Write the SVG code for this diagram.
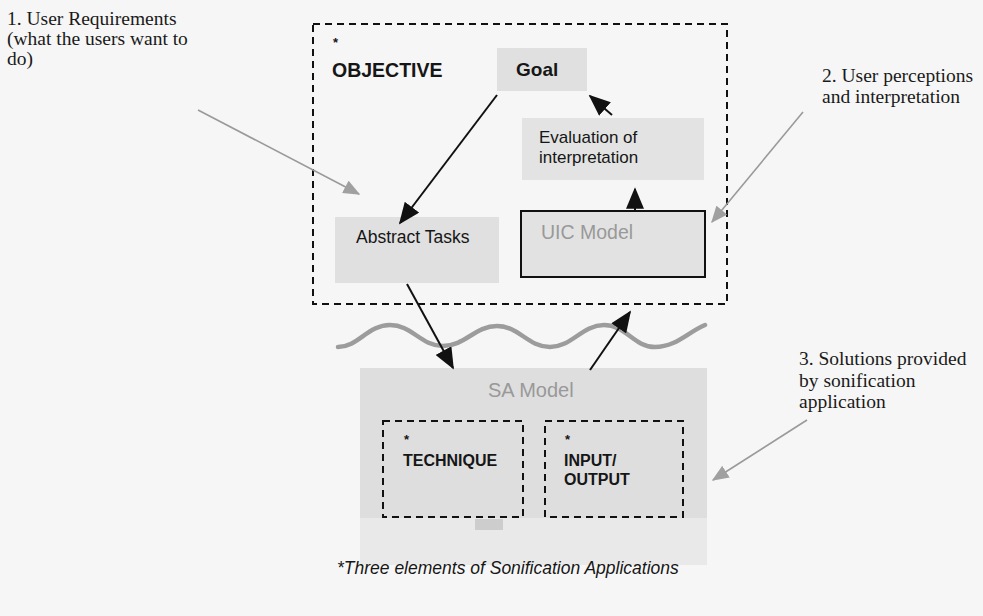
<svg xmlns="http://www.w3.org/2000/svg" width="983" height="616" viewBox="0 0 983 616">
  <style>
    .serif { font-family: "Liberation Serif", "Times New Roman", serif; font-size: 19.5px; fill: #1a1a1a; }
    .sans { font-family: "Liberation Sans", Arial, sans-serif; fill: #161616; }
    .bold { font-weight: bold; }
    .faint { fill: #999999; }
    .box { fill: #e0e0e0; }
    .dash { fill: none; stroke: #111; stroke-width: 2; stroke-dasharray: 7 5; }
    .link { stroke: #111; stroke-width: 2; fill: none; }
    .pointer { stroke: #9a9a9a; stroke-width: 1.6; fill: none; }
  </style>
  <defs>
    <marker id="arrow-big" viewBox="0 0 12 10" refX="11" refY="5" markerWidth="22" markerHeight="18" markerUnits="userSpaceOnUse" orient="auto">
      <path d="M0,0 L12,5 L0,10 z" fill="#111"/>
    </marker>
    <marker id="arrow-gray" viewBox="0 0 12 10" refX="11" refY="5" markerWidth="17" markerHeight="14" markerUnits="userSpaceOnUse" orient="auto">
      <path d="M0,0 L12,5 L0,10 z" fill="#a0a0a0"/>
    </marker>
  </defs>

  <rect x="0" y="0" width="983" height="616" fill="#f6f6f6"/>

  <!-- side annotations -->
  <g id="label-requirements">
    <text class="serif" x="7" y="25">1. User Requirements</text>
    <text class="serif" x="7" y="45">(what the users want to</text>
    <text class="serif" x="7" y="65">do)</text>
  </g>
  <g id="label-perceptions">
    <text class="serif" x="822" y="82">2. User perceptions</text>
    <text class="serif" x="822" y="103">and interpretation</text>
  </g>
  <g id="label-solutions">
    <text class="serif" x="799" y="365">3. Solutions provided</text>
    <text class="serif" x="799" y="387">by sonification</text>
    <text class="serif" x="799" y="408">application</text>
  </g>

  <!-- objective frame -->
  <g id="objective">
    <rect class="dash" x="313" y="24" width="414" height="280"/>
    <text class="sans bold" x="333" y="47" font-size="13">*</text>
    <text class="sans bold" x="332" y="77" font-size="19.5">OBJECTIVE</text>
  </g>

  <g id="goal">
    <rect class="box" x="497" y="48" width="90" height="43"/>
    <text class="sans bold" x="516" y="76" font-size="19">Goal</text>
  </g>

  <g id="evaluation">
    <rect x="522" y="118" width="182" height="62" fill="#e3e3e3"/>
    <text class="sans" x="539" y="143" font-size="17">Evaluation of</text>
    <text class="sans" x="539" y="163" font-size="17">interpretation</text>
  </g>

  <g id="abstract-tasks">
    <rect class="box" x="335" y="217" width="164" height="66"/>
    <text class="sans" x="356" y="243" font-size="17.5">Abstract Tasks</text>
  </g>

  <g id="uic-model">
    <rect x="521" y="211" width="184" height="66" fill="#e2e2e2" stroke="#111" stroke-width="2"/>
    <text class="sans faint" x="541" y="239" font-size="19.5">UIC Model</text>
  </g>

  <!-- boundary wave between user side and application side -->
  <g id="boundary">
    <path d="M338,347 C358,347 368,325 390,325 C412,325 421,346 443,346 C465,346 475,326 497,326 C519,326 528,347 550,347 C572,347 582,325 604,325 C626,325 634,347 655,347 C676,347 688,332 705,325"
          fill="none" stroke="#9c9c9c" stroke-width="4.5" stroke-linecap="round"/>
  </g>

  <g id="sa-model">
    <rect x="360" y="368" width="347" height="150" fill="#dedede"/>
    <rect x="360" y="518" width="347" height="47" fill="#e9e9e9"/>
    <rect x="475" y="519" width="28" height="11" fill="#cdcdcd"/>
    <text class="sans faint" x="488" y="397" font-size="20">SA Model</text>
  </g>

  <g id="technique">
    <rect class="dash" x="383" y="421" width="140" height="96"/>
    <text class="sans bold" x="404" y="444" font-size="13">*</text>
    <text class="sans bold" x="403" y="466" font-size="16">TECHNIQUE</text>
  </g>

  <g id="input-output">
    <rect class="dash" x="545" y="421" width="138" height="96"/>
    <text class="sans bold" x="565" y="444" font-size="13">*</text>
    <text class="sans bold" x="564" y="466" font-size="16">INPUT/</text>
    <text class="sans bold" x="564" y="485" font-size="16">OUTPUT</text>
  </g>

  <g id="connectors">
    <line class="link" x1="497" y1="95" x2="400" y2="223" marker-end="url(#arrow-big)"/>
    <line class="link" x1="612" y1="115" x2="590" y2="96" marker-end="url(#arrow-big)"/>
    <line class="link" x1="635" y1="211" x2="635" y2="189" marker-end="url(#arrow-big)"/>
    <line class="link" x1="407" y1="284" x2="453" y2="368" marker-end="url(#arrow-big)"/>
    <line class="link" x1="590" y1="370" x2="630" y2="312" marker-end="url(#arrow-big)"/>
    <line class="pointer" x1="198" y1="110" x2="359" y2="194" marker-end="url(#arrow-gray)"/>
    <line class="pointer" x1="803" y1="112" x2="712" y2="222" marker-end="url(#arrow-gray)"/>
    <line class="pointer" x1="807" y1="420" x2="713" y2="480" marker-end="url(#arrow-gray)"/>
  </g>

  <g id="caption">
    <text class="sans" x="337" y="574" font-size="17.5" font-style="italic" fill="#222">*Three elements of Sonification Applications</text>
  </g>
</svg>
